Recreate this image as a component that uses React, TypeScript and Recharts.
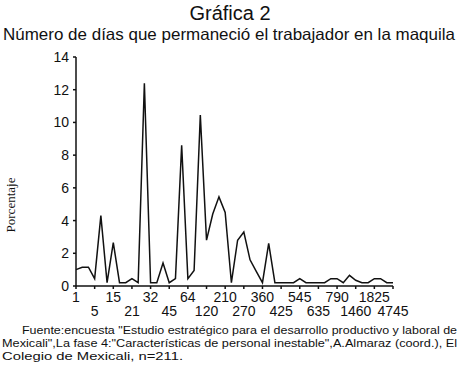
import React from 'react';
import { LineChart, Line, XAxis, YAxis } from 'recharts';

// días de permanencia (categorías del eje X)
const days = [
  '1', '2', '3', '5', '7', '10', '15', '18', '20', '21', '28', '30', '32',
  '35', '40', '45', '50', '60', '64', '75', '90', '120', '150', '180', '210',
  '240', '250', '270', '300', '330', '360', '365', '400', '425', '450', '500',
  '545', '570', '600', '635', '700', '730', '790', '900', '1095', '1460',
  '1500', '1800', '1825', '2190', '3650', '4745',
];

// porcentaje de trabajadores
const pct = [
  1.0, 1.15, 1.15, 0.45, 4.3, 0.2, 2.65, 0.2, 0.2, 0.45, 0.2, 12.4, 0.2,
  0.2, 1.4, 0.2, 0.45, 8.6, 0.45, 0.95, 10.45, 2.8, 4.4, 5.45, 4.5,
  0.2, 2.8, 3.3, 1.6, 0.9, 0.2, 2.6, 0.2, 0.2, 0.2, 0.2,
  0.45, 0.2, 0.2, 0.2, 0.2, 0.45, 0.45, 0.2, 0.65, 0.35,
  0.2, 0.2, 0.45, 0.45, 0.2, 0.2,
];

const labeledDays = [
  '1', '5', '15', '21', '32', '45', '64', '120', '210', '270', '360', '425',
  '545', '635', '790', '1460', '1825', '4745',
];

const yTicks = [0, 2, 4, 6, 8, 10, 12, 14];

const data = days.map((d, i) => ({ day: d, pct: pct[i] }));

const sans = '"Liberation Sans", Arial, sans-serif';

function DayTick(props: any) {
  const { x, y, payload } = props;
  const k = labeledDays.indexOf(payload.value);
  if (k < 0) return null;
  const row = k % 2;
  return (
    <g>
      <line x1={x} x2={x} y1={286} y2={289} stroke="#111" strokeWidth={1.5} />
      <text
        x={x}
        y={row === 0 ? 302 : 316}
        textAnchor="middle"
        fontSize={14}
        fontFamily={sans}
        fill="#111"
      >
        {payload.value}
      </text>
    </g>
  );
}

export default function App() {
  return (
    <div style={{ position: 'absolute', left: 0, top: 0, width: 459, height: 368, background: '#fff' }}>
      <svg width={459} height={368} style={{ position: 'absolute', left: 0, top: 0 }}>
        <text x={230} y={20} textAnchor="middle" fontSize={20} fontFamily={sans} fill="#111">
          Gráfica 2
        </text>
        <text x={3} y={40} fontSize={16.5} fontFamily={sans} fill="#111" textLength={452} lengthAdjust="spacingAndGlyphs">
          Número de días que permaneció el trabajador en la maquila
        </text>
        <text
          transform="translate(15,205) rotate(-90)"
          textAnchor="middle"
          fontSize={13}
          fontFamily='"Liberation Serif", serif'
          fill="#111"
        >
          Porcentaje
        </text>
        <text x={22} y={334} fontSize={11.5} fontFamily={sans} fill="#111" textLength={435} lengthAdjust="spacingAndGlyphs">
          Fuente:encuesta "Estudio estratégico para el desarrollo productivo y laboral de
        </text>
        <text x={2} y={347} fontSize={11.5} fontFamily={sans} fill="#111" textLength={455} lengthAdjust="spacingAndGlyphs">
          Mexicali",La fase 4:"Características de personal inestable",A.Almaraz  (coord.), El
        </text>
        <text x={2} y={360} fontSize={11.5} fontFamily={sans} fill="#111" textLength={181} lengthAdjust="spacingAndGlyphs">
          Colegio de Mexicali, n=211.
        </text>
      </svg>
      <div style={{ position: 'absolute', left: 0, top: 0 }}>
        <LineChart width={459} height={330} data={data} margin={{ top: 57, right: 66, bottom: 14, left: 0 }}>
          <XAxis
            dataKey="day"
            interval={0}
            height={30}
            tick={<DayTick />}
            tickLine={false}
            axisLine={{ stroke: '#111', strokeWidth: 1.5 }}
          />
          <YAxis
            width={76}
            domain={[0, 14]}
            ticks={yTicks}
            tickSize={3}
            tickMargin={4}
            tick={{ fontSize: 14, fontFamily: sans, fill: '#111' }}
            tickLine={{ stroke: '#111', strokeWidth: 1.5 }}
            axisLine={{ stroke: '#111', strokeWidth: 1.5 }}
          />
          <Line
            type="linear"
            dataKey="pct"
            stroke="#111"
            strokeWidth={1.5}
            dot={false}
            isAnimationActive={false}
          />
        </LineChart>
      </div>
    </div>
  );
}
